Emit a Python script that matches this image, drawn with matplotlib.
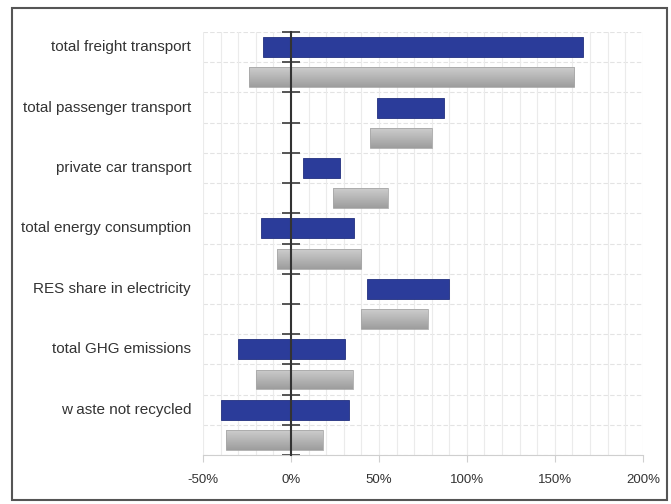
import numpy as np
import matplotlib.pyplot as plt
from matplotlib.patches import Rectangle
from matplotlib.colors import LinearSegmentedColormap
from matplotlib.ticker import MultipleLocator, FuncFormatter

plt.rcParams["font.family"] = ["Liberation Sans", "DejaVu Sans"]

categories = [
    "total freight transport",
    "total passenger transport",
    "private car transport",
    "total energy consumption",
    "RES share in electricity",
    "total GHG emissions",
    "w aste not recycled",
]

# ranges in % (start, end) - blue and grey series
blue_lo = [-16, 49, 7, -17, 43, -30, -40]
blue_hi = [166, 87, 28, 36, 90, 31, 33]
grey_lo = [-24, 45, 24, -8, 40, -20, -37]
grey_hi = [161, 80, 55, 40, 78, 35, 18]

fig = plt.figure(figsize=(6.71, 5.04), dpi=100)
ax = fig.add_axes([0.3025, 0.0972, 0.6555, 0.8393])

n = len(categories)
yb = np.arange(n) * 2
yg = yb + 1
blue_w = np.array(blue_hi) - np.array(blue_lo)
grey_w = np.array(grey_hi) - np.array(grey_lo)

ax.barh(yb, blue_w, left=blue_lo, height=0.66, color="#2b3c9a",
        edgecolor="#22307f", linewidth=0.6, zorder=3)
gbars = ax.barh(yg, grey_w, left=grey_lo, height=0.66, color="none",
                edgecolor="#a8a8a8", linewidth=0.6, zorder=3)

# vertical gradient fill for grey bars
grey_cmap = LinearSegmentedColormap.from_list("g", ["#cdcdcd", "#9d9d9d"])
grad = np.linspace(0, 1, 64).reshape(-1, 1)
for bar in gbars:
    x0, y0 = bar.get_x(), bar.get_y()
    w, h = bar.get_width(), bar.get_height()
    im = ax.imshow(grad, cmap=grey_cmap, aspect="auto", origin="upper",
                   extent=(x0, x0 + w, y0 + h, y0), zorder=2.9)
    im.set_clip_path(bar)

ax.set_xlim(-50, 200)
ax.set_ylim(2 * n - 0.5, -0.5)

# grid
ax.xaxis.set_major_locator(MultipleLocator(50))
ax.xaxis.set_minor_locator(MultipleLocator(10))
ax.xaxis.set_major_formatter(FuncFormatter(lambda v, p: f"{v:.0f}%"))
ax.grid(True, axis="x", which="both", color="#ebebeb", lw=0.8, zorder=0)
for b in np.arange(-0.5, 2 * n, 1.0):
    ax.axhline(b, color="#e3e3e3", lw=0.8, ls=(0, (4, 2)), zorder=0)

# vertical axis at zero with crossing ticks
ax.spines["left"].set_position(("data", 0))
ax.spines["left"].set_color("#333333")
ax.spines["left"].set_linewidth(1.5)
ax.spines["left"].set_zorder(4)
ax.set_yticks(np.arange(-0.5, 2 * n, 1.0))
ax.set_yticklabels([])
ax.tick_params(axis="y", direction="inout", length=13, width=1.4, color="#555555")

ax.spines["right"].set_visible(False)
ax.spines["top"].set_visible(False)
ax.spines["bottom"].set_color("#cfcfcf")
ax.tick_params(axis="x", which="major", direction="out", length=5, color="#cfcfcf",
               labelsize=9.5, labelcolor="#333333", pad=9)
ax.tick_params(axis="x", which="minor", length=0)

for y, lab in zip(yb, categories):
    ax.text(-0.027, y, lab, transform=ax.get_yaxis_transform(), ha="right",
            va="center", fontsize=11, color="#333333")

# outer frame
fig.patches.append(Rectangle((12 / 671, 4 / 504), 655 / 671, 492 / 504,
                             transform=fig.transFigure, fill=False,
                             edgecolor="#555555", linewidth=1.5))

fig.savefig("out.png", dpi=100)
